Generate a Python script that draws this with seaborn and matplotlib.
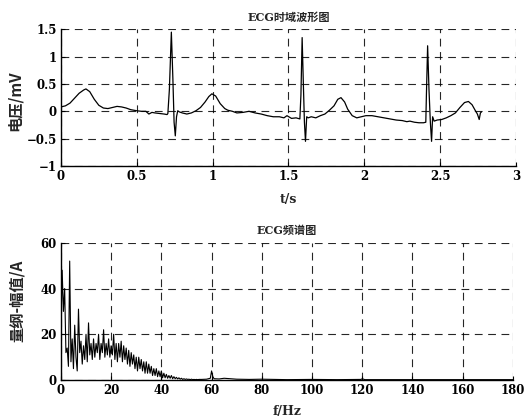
import numpy as np
import pandas as pd
import matplotlib
matplotlib.use("Agg")
import matplotlib.pyplot as plt
import seaborn as sns

# ---------------- data ----------------
# ECG time-domain samples as (t in s, v in mV)
ecg_points = [
    (0.00, 0.08), (0.03, 0.10), (0.06, 0.15), (0.09, 0.24), (0.12, 0.33), (0.15, 0.39),
    (0.165, 0.41), (0.19, 0.36), (0.22, 0.22), (0.25, 0.11), (0.28, 0.06), (0.31, 0.05),
    (0.34, 0.07), (0.37, 0.09), (0.40, 0.08), (0.43, 0.06), (0.46, 0.03), (0.50, 0.01),
    (0.53, 0.00), (0.56, 0.00), (0.58, -0.05), (0.60, -0.02), (0.62, -0.03), (0.65, -0.04),
    (0.68, -0.05), (0.70, -0.06), (0.705, -0.04), (0.715, 0.40), (0.728, 1.45), (0.738, 0.60),
    (0.746, -0.20), (0.754, -0.45), (0.762, -0.10), (0.77, 0.01), (0.78, -0.01), (0.80, -0.03),
    (0.83, -0.05), (0.86, -0.03), (0.89, 0.01), (0.92, 0.07), (0.95, 0.17), (0.975, 0.27),
    (0.995, 0.32), (1.02, 0.28), (1.05, 0.14), (1.08, 0.05), (1.10, 0.02), (1.13, 0.00),
    (1.16, -0.03), (1.20, -0.02), (1.24, 0.00), (1.28, -0.03), (1.32, -0.05), (1.36, -0.08),
    (1.40, -0.10), (1.44, -0.10), (1.47, -0.12), (1.49, -0.08), (1.52, -0.13), (1.55, -0.12),
    (1.575, -0.14), (1.582, 0.30), (1.59, 1.35), (1.598, 0.50), (1.605, -0.20), (1.612, -0.55),
    (1.62, -0.10), (1.63, -0.12), (1.65, -0.10), (1.68, -0.12), (1.71, -0.08), (1.74, -0.05),
    (1.77, 0.02), (1.80, 0.10), (1.825, 0.22), (1.846, 0.25), (1.87, 0.17), (1.89, 0.04),
    (1.92, -0.08), (1.95, -0.12), (1.98, -0.10), (2.01, -0.08), (2.05, -0.08), (2.09, -0.10),
    (2.13, -0.12), (2.17, -0.14), (2.21, -0.16), (2.25, -0.17), (2.28, -0.19), (2.30, -0.18),
    (2.33, -0.20), (2.36, -0.21), (2.39, -0.21), (2.405, -0.20), (2.409, 0.30), (2.417, 1.20),
    (2.426, 0.40), (2.435, -0.20), (2.443, -0.55), (2.45, -0.10), (2.46, -0.18), (2.48, -0.16),
    (2.51, -0.15), (2.54, -0.12), (2.57, -0.08), (2.60, -0.03), (2.63, 0.07), (2.66, 0.16),
    (2.686, 0.18), (2.71, 0.12), (2.73, 0.02), (2.745, -0.05), (2.757, -0.15), (2.765, -0.03),
    (2.772, -0.01),
]
ecg_t = [p[0] for p in ecg_points]
ecg_v = [p[1] for p in ecg_points]

# Amplitude spectrum, 0-55 Hz at 0.5 Hz bins
spec_dense = [20, 48, 30, 40, 12, 14, 6, 52, 8, 18, 5, 24, 10, 4, 31, 12,
              17, 7, 15, 9, 20, 8, 25, 11, 16, 9, 18, 10, 16, 12, 20, 9, 16, 12, 22, 10,
              16, 11, 18, 10, 15, 11, 20, 9, 16, 8,
              16, 10, 17, 8, 15, 9, 14, 7, 13, 6, 12, 7, 11, 5,
              10, 4, 10, 5, 9, 4, 8, 3, 8, 3, 7, 3, 6, 2, 5, 2, 5, 1.5, 4, 1.5,
              4, 1, 3, 1, 2.5, 0.8, 2, 0.8, 2, 0.6, 1.5, 0.6, 1.2, 0.5, 1, 0.4, 0.8, 0.3, 0.6, 0.3,
              0.5, 0.3, 0.4, 0.2, 0.4, 0.2, 0.3, 0.2, 0.3, 0.2, 0.3]
# sparse tail of the spectrum up to 180 Hz
tail_points = [(56, 0.3), (58, 0.4), (59.5, 0.8), (60, 4.0), (60.5, 1.5), (61, 0.6), (63, 0.5),
               (65, 0.8), (70, 0.4), (75, 0.3), (80, 0.4), (90, 0.2), (100, 0.3), (110, 0.2),
               (119.5, 0.3), (120, 0.6), (121, 0.2), (130, 0.2), (140, 0.2), (150, 0.2),
               (160, 0.2), (170, 0.2), (180, 0.2)]

ecg_xticks = [0, 0.5, 1, 1.5, 2, 2.5, 3]
ecg_yticks = [-1, -0.5, 0, 0.5, 1, 1.5]
spec_xticks = [0, 20, 40, 60, 80, 100, 120, 140, 160, 180]
spec_yticks = [0, 20, 40, 60]

# ---------------- plotting ----------------
sns.set_theme(style="ticks")
plt.rcParams['font.family'] = ['DejaVu Serif', 'Noto Sans CJK SC', 'DejaVu Sans']
plt.rcParams['axes.unicode_minus'] = True

ecg_df = pd.DataFrame({"t": ecg_t, "v": ecg_v})
spec_f = [i * 0.5 for i in range(len(spec_dense))] + [p[0] for p in tail_points]
spec_a = spec_dense + [p[1] for p in tail_points]
spec_df = pd.DataFrame({"f": spec_f, "a": spec_a})

fig = plt.figure(figsize=(5.25, 4.2), dpi=100)
ax1 = fig.add_axes([0.116, 0.605, 0.867, 0.325])
ax2 = fig.add_axes([0.116, 0.095, 0.861, 0.327])

sns.lineplot(data=ecg_df, x="t", y="v", ax=ax1, color="black", linewidth=0.9,
             sort=False, estimator=None)
sns.lineplot(data=spec_df, x="f", y="a", ax=ax2, color="black", linewidth=0.8,
             sort=False, estimator=None)

serif = ['DejaVu Serif', 'Noto Sans CJK SC']
tick_font = dict(family=serif, weight='bold', size=8.5)
cjk_font = ['Noto Sans CJK SC', 'DejaVu Serif']

for ax, xt, yt in [(ax1, ecg_xticks, ecg_yticks), (ax2, spec_xticks, spec_yticks)]:
    ax.set_xlim(xt[0], xt[-1])
    ax.set_ylim(yt[0], yt[-1])
    ax.set_xticks(xt)
    ax.set_yticks(yt)
    ax.set_xticklabels([f"{v:g}" for v in xt], fontdict=tick_font)
    ax.set_yticklabels([f"{v:g}".replace('-', '\u2212') for v in yt], fontdict=tick_font)
    ax.grid(True, color="black", linestyle=(0, (7, 5)), linewidth=0.8, alpha=0.85)
    ax.set_axisbelow(True)
    ax.tick_params(direction='in', length=3, width=0.8, colors='black', pad=3)
    for s in ['top', 'right']:
        ax.spines[s].set_visible(False)
    for s in ['left', 'bottom']:
        ax.spines[s].set_color('black')
        ax.spines[s].set_linewidth(1.0)

ax1.set_title("ECG时域波形图", family=serif, fontsize=8, weight='bold', pad=6)
ax1.set_xlabel("t/s", family=serif, fontsize=9, weight='bold')
ax1.set_ylabel("电压/mV", family=cjk_font, fontsize=11, weight='bold')
ax1.xaxis.set_label_coords(0.5, -0.195)
ax1.yaxis.set_label_coords(-0.083, 0.48)

ax2.set_title("ECG频谱图", family=serif, fontsize=8, weight='bold', pad=6)
ax2.set_xlabel("f/Hz", family=serif, fontsize=9, weight='bold')
ax2.set_ylabel("量纲-幅值/A", family=cjk_font, fontsize=11, weight='bold')
ax2.xaxis.set_label_coords(0.5, -0.18)
ax2.yaxis.set_label_coords(-0.08, 0.58)

fig.savefig("out.png", dpi=100, facecolor="white")
